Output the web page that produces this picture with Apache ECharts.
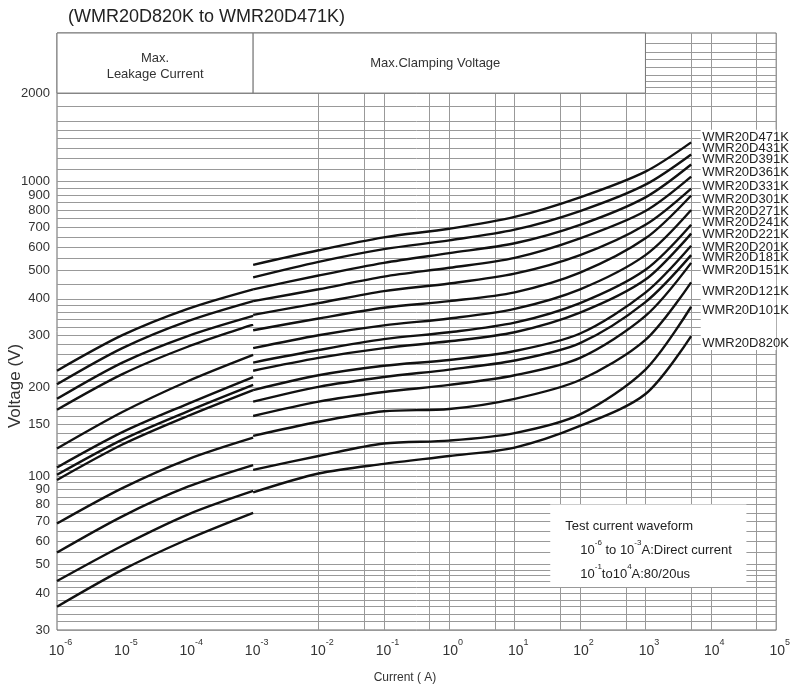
<!DOCTYPE html>
<html><head><meta charset="utf-8">
<script src="https://cdn.jsdelivr.net/npm/echarts@6/dist/echarts.min.js"></script>
<style>html,body{margin:0;padding:0;background:#fff}#c{width:793px;height:692px}</style>
</head><body><div id="c"></div>
<script>
// ---------- data ----------
const clampCurrents = [1e-3, 1e-2, 1e-1, 1, 10, 100, 1000, 5000];
const leakCurrents = [1e-6, 1e-5, 1e-4, 1e-3];

const clampNames = ['WMR20D471K','WMR20D431K','WMR20D391K','WMR20D361K','WMR20D331K','WMR20D301K','WMR20D271K','WMR20D241K','WMR20D221K','WMR20D201K','WMR20D181K','WMR20D151K','WMR20D121K','WMR20D101K','WMR20D820K'];
const clamp471 = [522, 585, 647, 692, 759, 885, 1082, 1360];
const clamp431 = [473, 534, 590, 632, 687, 795, 977, 1237];
const clamp391 = [431, 480, 530, 572, 618, 714, 885, 1144];
const clamp361 = [393, 431, 476, 510, 551, 642, 795, 1040];
const clamp331 = [353, 387, 425, 451, 487, 563, 714, 948];
const clamp301 = [313, 343, 373, 393, 421, 491, 642, 898];
const clamp271 = [272, 301, 325, 343, 370, 431, 563, 801];
const clamp241 = [243, 268, 292, 308, 332, 387, 502, 714];
const clamp221 = [228, 252, 272, 287, 308, 359, 465, 667];
const clamp201 = [196, 220, 237, 248, 266, 305, 420, 606];
const clamp181 = [179, 201, 217, 230, 247, 283, 390, 563];
const clamp151 = [160, 179, 193, 204, 220, 252, 350, 530];
const clamp121 = [137, 153, 166, 169, 183, 212, 290, 455];
const clamp101 = [105, 117, 129, 132, 140, 162, 230, 376];
const clamp820 = [88, 102, 110, 117, 125, 148, 190, 299];
const clampValues = [clamp471, clamp431, clamp391, clamp361, clamp331, clamp301, clamp271, clamp241, clamp221, clamp201, clamp181, clamp151, clamp121, clamp101, clamp820];

const leak1 = [228, 301, 370, 431];
const leak2 = [205, 272, 336, 393];
const leak3 = [183, 243, 299, 350];
const leak4 = [168, 222, 275, 327];
const leak5 = [124, 165, 210, 258];
const leak6 = [107, 141, 176, 217];
const leak7 = [101, 133, 166, 204];
const leak8 = [97, 128, 160, 196];
const leak9 = [69, 91, 114, 135];
const leak10 = [55, 73, 92, 109];
const leak11 = [44, 58, 74, 89];
const leak12 = [36, 48, 61, 75];
const leakValues = [leak1, leak2, leak3, leak4, leak5, leak6, leak7, leak8, leak9, leak10, leak11, leak12];

// tick labels and grid
const yTickLabels = [30, 40, 50, 60, 70, 80, 90, 100, 150, 200, 300, 400, 500, 600, 700, 800, 900, 1000, 2000];
const xTickValues = [1e-6, 1e-5, 1e-4, 1e-3, 1e-2, 1e-1, 1, 10, 100, 1000, 1e4, 1e5];
const xGridValues = [1e-6, 5e-6, 1e-5, 5e-5, 1e-4, 5e-4, 1e-3, 5e-3, 1e-2, 5e-2, 1e-1, 5e-1, 1, 5, 10, 50, 100, 500, 1000, 5000, 1e4, 5e4, 1e5];
const yGridValues = [30, 32, 34, 36, 38, 40, 42, 44, 46, 48, 50, 55, 60, 65, 70, 75, 80, 85, 90, 95,
  100, 105, 110, 120, 125, 130, 140, 150, 160, 170, 180, 200, 210, 220, 240, 260, 280, 300, 320, 340, 360, 380, 400, 450, 500, 550, 600, 650, 700, 750, 800, 850, 900, 950,
  1000, 1100, 1200, 1300, 1400, 1500, 1600, 1800, 2000, 2100, 2200, 2300, 2450, 2600, 2750, 2950];

// vertical nudges (px) of the stacked name labels at the right
const endLabelShift = [-5, -6, -5, -4, -2, 4, 1, -2, 1, 2, 2, 8, 9, 4, 7];

const FONT = '"Liberation Sans", Arial, sans-serif';

const series = [];
// grid lines
series.push({
  type: 'line', data: [], z: 1, silent: true,
  markLine: {
    z: 1, symbol: 'none', silent: true, animation: false,
    label: { show: false },
    lineStyle: { color: '#999', width: 1, type: 'solid' },
    data: xGridValues.map(v => ({ xAxis: v })).concat(yGridValues.map(v => ({ yAxis: v })))
  }
});
// masks: header boxes, label area, note box
series.push({
  type: 'line', data: [], z: 2, silent: true,
  markArea: {
    z: 2, silent: true, animation: false,
    itemStyle: { color: '#ffffff', opacity: 1, borderColor: '#777', borderWidth: 1 },
    label: { fontFamily: FONT, fontSize: 13, color: '#333' },
    data: [
      [{ xAxis: 1e-6, yAxis: 2000, label: { show: true, position: 'inside', formatter: 'Max.\nLeakage Current', lineHeight: 16, offset: [0, 3] } },
       { xAxis: 1e-3, yAxis: 3200 }],
      [{ xAxis: 1e-3, yAxis: 2000, label: { show: true, position: 'inside', formatter: 'Max.Clamping Voltage', offset: [-14, 0] } },
       { xAxis: 1000, yAxis: 3200 }],
      [{ xAxis: 7000, yAxis: 268, itemStyle: { borderWidth: 0 }, label: { show: false } },
       { xAxis: 1e5, yAxis: 1500 }],
      [{ xAxis: 35, yAxis: 80, itemStyle: { borderWidth: 0 },
         label: {
           show: true, position: 'insideTopLeft', distance: 0, padding: [10, 0, 0, 15],
           formatter: '{t|Test current waveform}\n{i|}{n|10}{s|-6}{n| to 10}{s|-3}{n|A:Direct current}\n{i|}{n|10}{s|-1}{n|to10}{s|4}{n|A:80/20us}',
           rich: {
             t: { fontFamily: FONT, fontSize: 13, color: '#222', lineHeight: 24 },
             n: { fontFamily: FONT, fontSize: 13, color: '#222', lineHeight: 24 },
             s: { fontFamily: FONT, fontSize: 8, color: '#222', lineHeight: 16, verticalAlign: 'top' },
             i: { width: 15 }
           }
         } },
       { xAxis: 35000, yAxis: 42 }]
    ]
  }
});
// leakage curves
leakValues.forEach((arr, i) => {
  series.push({
    type: 'line', name: 'leak' + i, z: 3, symbol: 'none', smooth: 0.3, silent: true,
    lineStyle: { color: '#111', width: 2.4 },
    data: leakCurrents.map((c, k) => [c, arr[k]])
  });
});
// clamping curves
clampValues.forEach((arr, i) => {
  series.push({
    type: 'line', name: clampNames[i], z: 3, symbol: 'none', smooth: 0.3, silent: true,
    lineStyle: { color: '#111', width: 2.4 },
    data: clampCurrents.map((c, k) => [c, arr[k]]),
    endLabel: { show: true, formatter: p => p.seriesName, fontFamily: FONT, fontSize: 13, color: '#222', distance: 11, offset: [0, endLabelShift[i]] }
  });
});

const chart = echarts.init(document.getElementById('c'), null, { renderer: 'canvas' });
chart.setOption({
  animation: false,
  backgroundColor: '#fff',
  grid: { left: 57, right: 10, top: 33, bottom: 62, show: true, borderColor: '#666', borderWidth: 1 },
  xAxis: {
    type: 'log', logBase: 10, min: 1e-6, max: 1e5,
    axisLine: { show: false }, axisTick: { show: false }, splitLine: { show: false },
    axisLabel: {
      customValues: xTickValues, margin: 8, color: '#333',
      formatter: v => '{b|10}{s|' + Math.round(Math.log10(v)) + '}',
      rich: {
        b: { fontFamily: FONT, fontSize: 14, lineHeight: 20, verticalAlign: 'bottom', color: '#333', padding: [0, 0, 0, 7] },
        s: { fontFamily: FONT, fontSize: 9, lineHeight: 11, verticalAlign: 'top', color: '#333' }
      }
    }
  },
  yAxis: {
    type: 'log', logBase: 10, min: 30, max: 3200,
    axisLine: { show: false }, axisTick: { show: false }, splitLine: { show: false },
    axisLabel: { customValues: yTickLabels, margin: 7, color: '#333', fontFamily: FONT, fontSize: 13, formatter: v => String(v) }
  },
  graphic: [
    { type: 'text', left: 68, top: 8, style: { text: '(WMR20D820K to WMR20D471K)', font: '18px ' + FONT, fill: '#222' } },
    { type: 'text', x: 15, y: 386, rotation: Math.PI / 2, style: { text: 'Voltage (V)', font: '17px ' + FONT, fill: '#333', align: 'center', verticalAlign: 'middle' } },
    { type: 'text', x: 405, y: 678, style: { text: 'Current ( A)', font: '12px ' + FONT, fill: '#333', align: 'center', verticalAlign: 'middle' } }
  ],
  series: series
});
</script>
</body></html>
